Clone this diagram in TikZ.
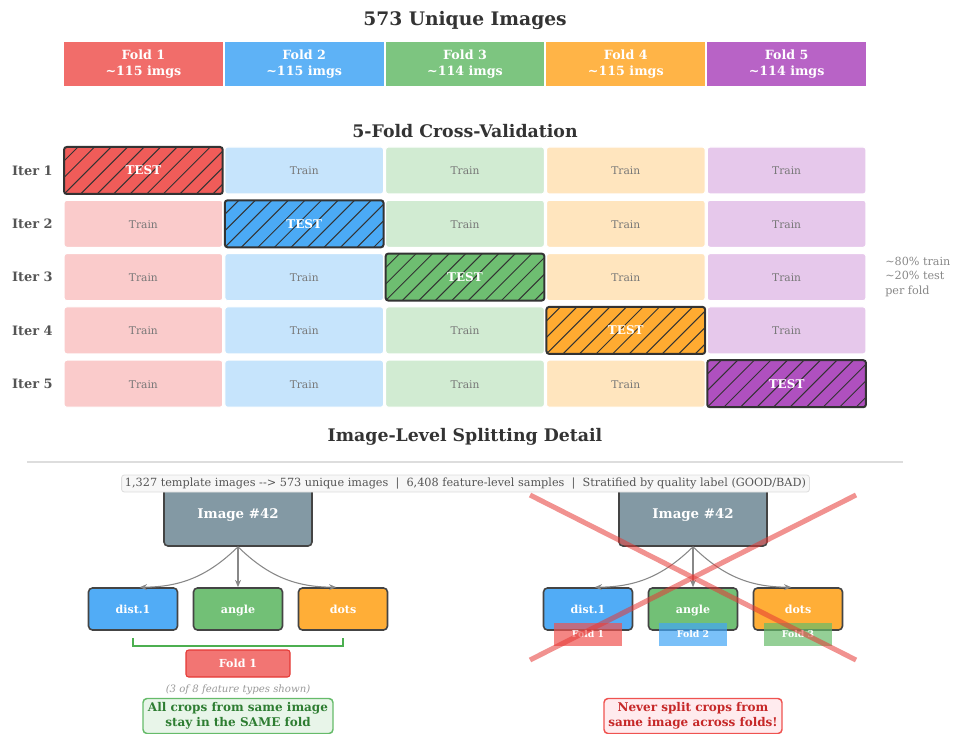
\documentclass[tikz,border=0pt]{standalone}
\usepackage{fontspec}
\setmainfont{DejaVu Serif}
\usetikzlibrary{arrows.meta}
\definecolor{cred}{HTML}{EF5350}
\definecolor{cblue}{HTML}{42A5F5}
\definecolor{cgreen}{HTML}{66BB6A}
\definecolor{corange}{HTML}{FFA726}
\definecolor{cpurple}{HTML}{AB47BC}
\definecolor{dk}{HTML}{333333}
\definecolor{dk4}{HTML}{444444}
\definecolor{g5}{HTML}{555555}
\definecolor{g7}{HTML}{777777}
\definecolor{g8}{HTML}{888888}
\definecolor{g9}{HTML}{999999}
\definecolor{gd}{HTML}{DDDDDD}
\definecolor{bgrey}{HTML}{8399A4}
\definecolor{bracketg}{HTML}{4CAF50}
\definecolor{okgreen}{HTML}{2E7D32}
\definecolor{okfill}{HTML}{E8F5E9}
\definecolor{badred}{HTML}{C62828}
\definecolor{badfill}{HTML}{FFEBEE}
\definecolor{crossred}{HTML}{E53935}
\newcommand\fsz[2]{\fontsize{#1}{#2}\selectfont}
\begin{document}
\begin{tikzpicture}[x=0.75pt,y=-0.75pt,
  title/.style={text=dk, font=\bfseries\fsz{14}{16}},
  subtitle/.style={text=dk, font=\bfseries\fsz{13}{15}},
  foldbar/.style={rectangle, minimum width=120pt, minimum height=34.5pt, inner sep=0pt,
    fill=#1!85!white, draw=white, line width=0.8pt, text=white, align=center,
    font=\bfseries\fsz{9.5}{11.5}},
  cell/.style={rectangle, rounded corners=2pt, minimum width=119pt, minimum height=35.25pt, inner sep=0pt,
    text height=1.5ex, text depth=0.25ex},
  train/.style={cell, fill=#1!30!white, draw=white, line width=0.8pt, text=g7, font=\fsz{8}{10}},
  test/.style={cell, fill=#1!95!white, draw=dk, line width=1.5pt, text=white, font=\bfseries\fsz{9}{11},
    path picture={\foreach \k in {-3,...,10}{\draw[line width=0.75pt, draw=dk]
      ([xshift=\k*12.4pt]path picture bounding box.south west) -- ++(45pt,45pt);}}},
  iterlbl/.style={text=g5, font=\bfseries\fsz{9.7}{11}, inner sep=0pt},
  imgbox/.style={rectangle, rounded corners=3pt, minimum width=111pt, minimum height=48pt,
    fill=bgrey, draw=dk4, line width=1.2pt, text=white, font=\bfseries\fsz{10}{12},
    text height=1.6ex, text depth=0.3ex},
  feat/.style={rectangle, rounded corners=3pt, minimum width=66.75pt, minimum height=31.5pt,
    fill=#1!92!white, draw=dk4, line width=1.2pt, text=white, font=\bfseries\fsz{8.3}{10},
    text height=1.6ex, text depth=0.3ex},
  smallfold/.style={rectangle, minimum width=51pt, minimum height=17.25pt, inner sep=0pt,
    fill=#1, fill opacity=0.7, text opacity=1, text=white, font=\bfseries\fsz{7}{8}},
  arr/.style={draw=g8, line width=0.8pt, -{Stealth[length=5.5pt,width=4.5pt]}},
  cross/.style={draw=crossred, draw opacity=0.55, line width=3.8pt}
]
\useasboundingbox (0,0) rectangle (955,734);

% ---------- top: unique images ----------
\node[title] (t1) at (465,20) {573 Unique Images};
\node[foldbar=cred]    (f1) at (143.4,64) {Fold 1\\\textasciitilde115 imgs};
\node[foldbar=cblue]   (f2) at (304.2,64) {Fold 2\\\textasciitilde115 imgs};
\node[foldbar=cgreen]  (f3) at (465.0,64) {Fold 3\\\textasciitilde114 imgs};
\node[foldbar=corange] (f4) at (625.8,64) {Fold 4\\\textasciitilde115 imgs};
\node[foldbar=cpurple] (f5) at (786.6,64) {Fold 5\\\textasciitilde114 imgs};

% ---------- 5-fold CV ----------
\node[subtitle] (t2) at (465,131) {5-Fold Cross-Validation};
\foreach \r in {1,...,5}{
  \pgfmathsetmacro\yy{170.5+53.3*(\r-1)}
  \node[iterlbl, anchor=east] (it\r) at (53,\yy) {Iter \r};
  \foreach \c/\col in {1/cred,2/cblue,3/cgreen,4/corange,5/cpurple}{
    \pgfmathsetmacro\xx{143.4+160.8*(\c-1)}
    \ifnum\r=\c
      \node[test=\col] (c\r\c) at (\xx,\yy) {TEST};
    \else
      \node[train=\col] (c\r\c) at (\xx,\yy) {Train};
    \fi
  }
}
\node[anchor=west, align=left, text=g8, font=\fsz{8.4}{10.9}, inner sep=0pt] (note) at (885,277)
  {\textasciitilde80\% train\\\textasciitilde20\% test\\per fold};

% ---------- image-level splitting ----------
\node[subtitle] (t3) at (465,437) {Image-Level Splitting Detail};
\draw[draw=gd, line width=1.2pt] (27,462) -- (903,462);

% left: correct
\node[imgbox] (img1) at (238,514) {Image \#42};
\node[feat=cblue]   (d1) at (133,609) {dist.1};
\node[feat=cgreen]  (a1) at (238,609) {angle};
\node[feat=corange] (o1) at (343,609) {dots};
\draw[arr] (img1.south) to[bend left=22] ([xshift=5pt]d1.north);
\draw[arr] (img1.south) -- (a1.north);
\draw[arr] (img1.south) to[bend right=22] ([xshift=-5pt]o1.north);
\draw[draw=bracketg, line width=1.4pt] ([yshift=-5.25pt]d1.south) -- ([yshift=-11.25pt]d1.south)
  -- ([yshift=-11.25pt]o1.south) -- ([yshift=-5.25pt]o1.south);
\node[rectangle, rounded corners=2pt, minimum width=78pt, minimum height=20.25pt, inner sep=0pt,
  fill=cred!80!white, draw=crossred, line width=0.8pt, text=white, font=\bfseries\fsz{8.3}{10}]
  (fold1) at (238,663.5) {Fold 1};
\node[text=g9, font=\itshape\fsz{7.6}{8.5}] (shown) at (238,690) {(3 of 8 feature types shown)};
\node[rectangle, rounded corners=3pt, minimum width=142.5pt, minimum height=26.25pt, inner sep=1pt,
  fill=okfill, draw=cgreen, line width=1.1pt, text=okgreen, align=center, font=\bfseries\fsz{9}{11.25}]
  (ok) at (238,716) {All crops from same image\\stay in the SAME fold};

% right: wrong
\node[imgbox] (img2) at (693,514) {Image \#42};
\node[feat=cblue]   (d2) at (588,609) {dist.1};
\node[feat=cgreen]  (a2) at (693,609) {angle};
\node[feat=corange] (o2) at (798,609) {dots};
\draw[arr] (img2.south) to[bend left=22] ([xshift=5pt]d2.north);
\draw[arr] (img2.south) -- (a2.north);
\draw[arr] (img2.south) to[bend right=22] ([xshift=-5pt]o2.north);
\node[smallfold=cred]   (sf1) at (588,634) {Fold 1};
\node[smallfold=cblue]  (sf2) at (693,634) {Fold 2};
\node[smallfold=cgreen] (sf3) at (798,634) {Fold 3};
\node[rectangle, rounded corners=3pt, minimum width=133.5pt, minimum height=26.25pt, inner sep=1pt,
  fill=badfill, draw=cred, line width=1.1pt, text=badred, align=center, font=\bfseries\fsz{9}{11.25}]
  (bad) at (693,716) {Never split crops from\\same image across folds!};

% stats box (over image boxes)
\node[rectangle, rounded corners=2pt, minimum height=12.75pt, inner xsep=2.5pt, inner ysep=0pt,
  fill=white!97!black, draw=gd, line width=0.6pt, text=g5, font=\fsz{8.45}{9.5}] (stats) at (465.5,483.5)
  {1,327 template images {-}{-}> 573 unique images \ |\ \ 6,408 feature-level samples \ |\ \ Stratified by quality label (GOOD/BAD)};

% red cross
\coordinate (xa) at (530,495);
\coordinate (xb) at (856,660);
\coordinate (xc) at (856,495);
\coordinate (xd) at (530,660);
\draw[cross] (xa) -- (xb);
\draw[cross] (xc) -- (xd);
\end{tikzpicture}
\end{document}
